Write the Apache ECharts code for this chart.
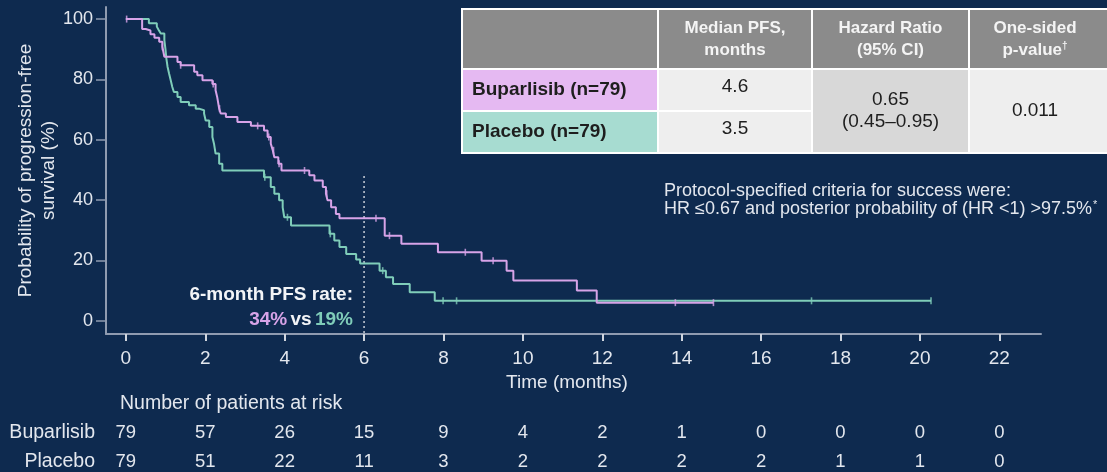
<!DOCTYPE html>
<html>
<head>
<meta charset="utf-8">
<script src="https://cdn.jsdelivr.net/npm/echarts@6/dist/echarts.min.js"></script>
<style>
  html, body { margin: 0; padding: 0; background: #0e2a4f; }
  #chart { width: 1107px; height: 472px; }
</style>
</head>
<body>
<div id="chart"></div>
<script>
// Kaplan–Meier progression-free survival, [months, % progression-free]
const buparlisibCurve = [
  [0, 100], [0.41, 96.7], [0.5, 96.2], [0.62, 95.0], [0.72, 93.8], [0.84, 92.5],
  [0.92, 90.8], [0.97, 87.5], [1.30, 85.8], [1.38, 84.7], [1.72, 82.5], [1.80, 81.4],
  [1.93, 79.7], [2.18, 78.5], [2.26, 76.4], [2.30, 74.2], [2.35, 70.3], [2.39, 68.7],
  [2.52, 67.5], [2.81, 65.9], [3.15, 64.6], [3.48, 63.1], [3.57, 60.9], [3.65, 58.7],
  [3.70, 56.5], [3.74, 54.2], [3.84, 52.0], [3.92, 49.8], [4.62, 48.2], [4.75, 46.5],
  [4.96, 44.3], [5.04, 42.1], [5.08, 39.9], [5.17, 37.6], [5.29, 35.4], [5.38, 34.0],
  [6.52, 28.2], [6.94, 25.5], [7.86, 22.7], [8.96, 19.9], [9.59, 16.6], [9.76, 13.3],
  [11.36, 10.0], [11.86, 6.0], [14.8, 6.0]
];
const placeboCurve = [
  [0, 100], [0.58, 98.6], [0.78, 97.5], [0.83, 96.3], [0.88, 95.2], [0.97, 93.0],
  [1.00, 89.7], [1.02, 87.0], [1.05, 84.2], [1.09, 81.9], [1.13, 79.7], [1.17, 77.5],
  [1.21, 75.8], [1.30, 74.2], [1.38, 72.5], [1.59, 71.4], [1.76, 70.3], [1.84, 69.8],
  [1.97, 68.7], [2.01, 66.4], [2.10, 64.2], [2.18, 60.9], [2.22, 58.7], [2.26, 55.4],
  [2.35, 52.0], [2.43, 49.8], [3.48, 47.6], [3.65, 44.3], [3.74, 42.1], [3.86, 39.9],
  [3.95, 37.6], [3.99, 34.3], [4.16, 31.6], [5.13, 28.8], [5.25, 26.6], [5.38, 24.4],
  [5.55, 22.1], [5.80, 20.3], [5.90, 19.0], [6.39, 16.6], [6.55, 14.4], [6.73, 12.2],
  [7.15, 9.4], [7.78, 6.6], [20.28, 6.6]
];
// Censoring times (months)
const buparlisibCensored = [0.02, 0.92, 1.38, 2.2, 2.36, 3.32, 3.6, 3.72, 3.86, 4.5, 5.06, 6.3, 6.64, 8.55, 9.25, 13.84, 14.8];
const placeboCensored = [3.5, 4.07, 5.15, 6.47, 7.99, 8.33, 17.27, 20.28];

const monthTicks = [0, 2, 4, 6, 8, 10, 12, 14, 16, 18, 20, 22];
const percentTicks = [0, 20, 40, 60, 80, 100];
const atRiskBuparlisib = [79, 57, 26, 15, 9, 4, 2, 1, 0, 0, 0, 0];
const atRiskPlacebo = [79, 51, 22, 11, 3, 2, 2, 2, 2, 1, 1, 0];

const sixMonthMark = 6;
const sixMonthRates = [34, 19];

const tableHeader = ['', 'Median PFS,\nmonths', 'Hazard Ratio\n(95% CI)', 'One-sided\np-value{s|†}'];
const armLabels = ['Buparlisib (n=79)', 'Placebo (n=79)'];
const medianPFS = ['4.6', '3.5'];
const hazardRatio = '0.65\n(0.45–0.95)';
const pValue = '0.011';

const PINK = '#d7a3e8';
const TEAL = '#7fcdb9';
const TEXT = '#e3e7ee';
const AXIS = '#8f9bb0';
const FONT = '"Liberation Sans", Arial, Helvetica, sans-serif';

function valueAt(curve, t) {
  let v = curve[0][1];
  for (const p of curve) { if (p[0] <= t) v = p[1]; else break; }
  return v;
}

const chart = echarts.init(document.getElementById('chart'));

const option = {
  backgroundColor: '#0e2a4f',
  animation: false,
  textStyle: { fontFamily: FONT },
  grid: { left: 106, right: 66, top: 7, bottom: 138, containLabel: false, outerBoundsMode: 'none' },
  xAxis: {
    type: 'value', min: -0.5, max: 23.05,
    axisLine: { show: true, onZero: false, lineStyle: { color: AXIS, width: 2 } },
    axisTick: { show: true, length: 7, inside: false, customValues: monthTicks, lineStyle: { color: '#d0d6df', width: 2 } },
    axisLabel: { customValues: monthTicks, color: TEXT, fontSize: 19, margin: 15, fontFamily: FONT },
    splitLine: { show: false }
  },
  yAxis: {
    type: 'value', min: -4.4, max: 104,
    name: 'Probability of progression-free\nsurvival (%)',
    nameLocation: 'middle', nameRotate: 90, nameGap: 46, nameMoveOverlap: false,
    nameTextStyle: { color: TEXT, fontSize: 19, lineHeight: 23, fontFamily: FONT },
    axisLine: { show: true, onZero: false, lineStyle: { color: AXIS, width: 2 } },
    axisTick: { show: true, length: 10, customValues: percentTicks, lineStyle: { color: AXIS, width: 1.5 } },
    axisLabel: { customValues: percentTicks, color: TEXT, fontSize: 18, margin: 13, fontFamily: FONT },
    splitLine: { show: false }
  },
  series: [
    {
      name: 'Placebo', type: 'line', step: 'end', data: placeboCurve,
      showSymbol: false, lineStyle: { color: TEAL, width: 2 }, z: 3
    },
    {
      name: 'Buparlisib', type: 'line', step: 'end', data: buparlisibCurve,
      showSymbol: false, lineStyle: { color: PINK, width: 2 }, z: 4
    },
    {
      type: 'scatter', symbol: 'rect', symbolSize: [1.6, 7],
      data: placeboCensored.map(t => [t, valueAt(placeboCurve, t)]),
      itemStyle: { color: TEAL }, z: 5
    },
    {
      type: 'scatter', symbol: 'rect', symbolSize: [1.6, 7],
      data: buparlisibCensored.map(t => [t, valueAt(buparlisibCurve, t)]),
      itemStyle: { color: PINK }, z: 6
    },
    {
      type: 'line', data: [[sixMonthMark, 48], [sixMonthMark, -4.4]], showSymbol: false,
      lineStyle: { color: '#c9ced8', width: 1.5, type: [2, 3] }, z: 2
    }
  ]
};
chart.setOption(option);

// Overlay text and the summary table
const g = [];
const px = (x, y) => chart.convertToPixel({ gridIndex: 0 }, [x, y]);

g.push({ type: 'text', x: 567, y: 383, style: { text: 'Time (months)', fill: TEXT, font: '19px ' + FONT, align: 'center', verticalAlign: 'middle' } });

const rateX = 353;
g.push({ type: 'text', x: rateX, y: 295, style: { text: '6-month PFS rate:', fill: '#f2f4f7', font: 'bold 19px ' + FONT, align: 'right', verticalAlign: 'middle' } });
g.push({
  type: 'text', x: rateX, y: 320,
  style: {
    text: '{p|' + sixMonthRates[0] + '%} {w|vs} {t|' + sixMonthRates[1] + '%}',
    align: 'right', verticalAlign: 'middle',
    rich: {
      p: { fill: PINK, font: 'bold 19px ' + FONT },
      w: { fill: '#f2f4f7', font: 'bold 19px ' + FONT },
      t: { fill: TEAL, font: 'bold 19px ' + FONT }
    }
  }
});

// Numbers at risk
g.push({ type: 'text', x: 120, y: 404, style: { text: 'Number of patients at risk', fill: TEXT, font: '19.5px ' + FONT, verticalAlign: 'middle' } });
g.push({ type: 'text', x: 95, y: 433, style: { text: 'Buparlisib', fill: TEXT, font: '19.5px ' + FONT, align: 'right', verticalAlign: 'middle' } });
g.push({ type: 'text', x: 95, y: 462, style: { text: 'Placebo', fill: TEXT, font: '19.5px ' + FONT, align: 'right', verticalAlign: 'middle' } });
monthTicks.forEach((m, i) => {
  const x = px(m, 0)[0];
  g.push({ type: 'text', x: x, y: 433, style: { text: String(atRiskBuparlisib[i]), fill: TEXT, font: '18.5px ' + FONT, align: 'center', verticalAlign: 'middle' } });
  g.push({ type: 'text', x: x, y: 462, style: { text: String(atRiskPlacebo[i]), fill: TEXT, font: '18.5px ' + FONT, align: 'center', verticalAlign: 'middle' } });
});

// Success criteria note
g.push({ type: 'text', x: 664, y: 191, style: { text: 'Protocol-specified criteria for success were:', fill: TEXT, font: '18px ' + FONT, verticalAlign: 'middle' } });
g.push({
  type: 'text', x: 664, y: 209,
  style: {
    text: 'HR ≤0.67 and posterior probability of (HR <1) >97.5%{s|*}',
    fill: TEXT, font: '18px ' + FONT, verticalAlign: 'middle',
    rich: { s: { fill: TEXT, font: '11px ' + FONT, padding: [0, 0, 9, 1] } }
  }
});

// Summary table
const colX = [462, 658, 812, 969, 1110];
const rowY = [9, 69, 111, 153];
const W = '#ffffff';
function cell(x0, x1, y0, y1, fill) {
  g.push({ type: 'rect', shape: { x: x0, y: y0, width: x1 - x0, height: y1 - y0 }, style: { fill: fill, stroke: W, lineWidth: 2 } });
}
function label(text, cx, cy, opts) {
  g.push({ type: 'text', x: cx, y: cy, z: 10, style: Object.assign({ text: text, align: 'center', verticalAlign: 'middle', fill: '#1e1e1e', font: '19px ' + FONT, lineHeight: 22 }, opts || {}) });
}
for (let c = 0; c < 4; c++) cell(colX[c], colX[c + 1], rowY[0], rowY[1], '#8b8b8b');
cell(colX[0], colX[1], rowY[1], rowY[2], '#e5b9f2');
cell(colX[0], colX[1], rowY[2], rowY[3], '#a7dcd1');
cell(colX[1], colX[2], rowY[1], rowY[2], '#eeeeee');
cell(colX[1], colX[2], rowY[2], rowY[3], '#eeeeee');
cell(colX[2], colX[3], rowY[1], rowY[3], '#d8d8d8');
cell(colX[3], colX[4], rowY[1], rowY[3], '#eeeeee');
for (let c = 1; c < 4; c++) {
  label(tableHeader[c], (colX[c] + Math.min(colX[c + 1], 1107)) / 2 + (c === 3 ? -3 : 0), (rowY[0] + rowY[1]) / 2, {
    fill: '#f4f4f4', font: 'bold 17px ' + FONT, lineHeight: 22,
    rich: { s: { fill: '#f4f4f4', font: 'bold 10px ' + FONT, padding: [0, 0, 8, 0] } }
  });
}
armLabels.forEach((t, i) => {
  g.push({ type: 'text', x: colX[0] + 10, y: (rowY[i + 1] + rowY[i + 2]) / 2, z: 10, style: { text: t, fill: '#1e1e1e', font: 'bold 19px ' + FONT, verticalAlign: 'middle' } });
  label(medianPFS[i], (colX[1] + colX[2]) / 2, (rowY[i + 1] + rowY[i + 2]) / 2 - 3);
});
label(hazardRatio, (colX[2] + colX[3]) / 2, (rowY[1] + rowY[3]) / 2);
label(pValue, (colX[3] + 1107) / 2 - 3, (rowY[1] + rowY[3]) / 2);

chart.setOption({ graphic: g });
</script>
</body>
</html>
